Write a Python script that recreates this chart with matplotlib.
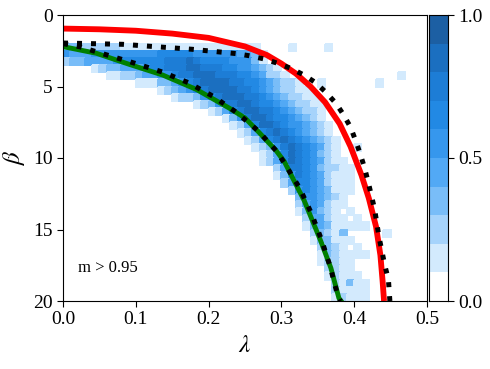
import numpy as np
import matplotlib
matplotlib.use("Agg")
import matplotlib.pyplot as plt
from matplotlib.colors import ListedColormap, BoundaryNorm

plt.rcParams["font.family"] = "serif"
plt.rcParams["font.serif"] = ["Liberation Serif", "DejaVu Serif"]
plt.rcParams["mathtext.fontset"] = "stix"

# histogram grid: lambda bins 0..0.5 (50), beta bins 0..20 (40)
n_lam, n_beta = 50, 40
# per row (beta bin): first column and the colour level of each cell (0 = empty)
row_start = [0, 0, 0, 0, 0, 0, 0, 0, 0, 0,
             13, 15, 18, 20, 22, 23, 24, 25, 26, 27,
             27, 29, 29, 30, 31, 32, 32, 32, 33, 33,
             34, 34, 35, 35, 35, 36, 36, 37, 37, 37]
row_levels = [
    "", "", "", "",
    "3322222211111111111111111110000100001",
    "5444555555555666665555554431",
    "2334444566666677787666655531",
    "000012334445667778877766554321",
    "00000011223445567788877766542210000000000000001",
    "00000000001113345678888776654322100100000001",
    "123456788887765432211",
    "12235678887765432211",
    "123577887665432211",
    "1246788776543221",
    "13578876654321",
    "12468876554321",
    "1246787654321",
    "1246787654321",
    "123578765421001",
    "12468765321",
    "124687654211",
    "24776532211",
    "13576542111",
    "2466542111",
    "256543111",
    "3554321",
    "2454211",
    "13532101",
    "24421101",
    "134311111",
    "23213000001",
    "133111",
    "232101",
    "1321111",
    "12211",
    "2211",
    "12111",
    "21311",
    "21111",
    "12111",
]

# curves (lambda, beta)
red_lam = [0.0, 0.05, 0.10, 0.15, 0.20, 0.25, 0.28, 0.30, 0.32, 0.34, 0.36,
           0.38, 0.395, 0.41, 0.42, 0.43, 0.436, 0.439, 0.441]
red_beta = [0.95, 1.0, 1.1, 1.3, 1.6, 2.2, 2.8, 3.4, 4.1, 5.0, 6.1,
            7.6, 9.2, 11.2, 12.8, 14.8, 16.8, 18.6, 20.0]

outer_lam = [0.0, 0.082, 0.178, 0.238, 0.256, 0.277, 0.295, 0.313, 0.331, 0.347,
             0.361, 0.375, 0.385, 0.395, 0.402, 0.408, 0.414, 0.419, 0.428, 0.434,
             0.442, 0.447, 0.449]
outer_beta = [1.96, 2.05, 2.4, 2.7, 2.85, 3.08, 3.38, 3.73, 4.2, 4.73,
              5.4, 6.18, 6.95, 7.85, 8.79, 9.67, 10.65, 11.63, 13.57, 15.5,
              17.5, 18.5, 20.0]

green_lam = [0.0, 0.046, 0.091, 0.137, 0.183, 0.228, 0.25, 0.27, 0.293, 0.304,
             0.3315, 0.354, 0.368, 0.379, 0.382]
green_beta = [2.21, 2.68, 3.45, 4.2, 5.2, 6.5, 7.2, 8.25, 9.5, 10.25,
              13.0, 15.8, 17.7, 19.8, 20.0]

inner_lam = [0.0, 0.023, 0.062, 0.099, 0.136, 0.172, 0.206, 0.238, 0.268, 0.294,
             0.304, 0.325, 0.341, 0.355, 0.367, 0.377, 0.381]
inner_beta = [2.0, 2.22, 2.82, 3.38, 3.98, 4.73, 5.68, 6.8, 8.1, 9.56,
              10.35, 12.1, 13.85, 15.7, 17.6, 19.56, 20.0]

cmap_colors = ["#ffffff", "#d3eafd", "#a6d3fb", "#79bdf8", "#52a9f5",
               "#3697ed", "#2289e4", "#1d7dd6", "#1b6fc0", "#1c5fa3"]

Z = np.full((n_beta, n_lam), np.nan)
for r in range(n_beta):
    for k, ch in enumerate(row_levels[r]):
        d = int(ch)
        if d > 0:
            Z[r, row_start[r] + k] = (d + 0.5) / 10.0

lam_edges = np.linspace(0, 0.5, n_lam + 1)
beta_edges = np.linspace(0, 20, n_beta + 1)

cmap = ListedColormap(cmap_colors)
norm = BoundaryNorm(np.linspace(0, 1, 11), cmap.N)

fig = plt.figure(figsize=(4.9, 3.69), dpi=100)
ax = fig.add_axes([63 / 490, 68 / 369, 364 / 490, 286 / 369])
cax = fig.add_axes([429 / 490, 68 / 369, 19 / 490, 286 / 369])

mesh = ax.pcolormesh(lam_edges, beta_edges, Z, cmap=cmap, norm=norm,
                     edgecolors="face", linewidth=0.2)

ax.plot(red_lam, red_beta, color="red", lw=4.2, solid_capstyle="butt")
ax.plot(green_lam, green_beta, color="green", lw=3.5)
ax.plot(outer_lam, outer_beta, color="black", lw=3.6, dashes=(1, 1.8))
ax.plot(inner_lam, inner_beta, color="black", lw=3.6, dashes=(1, 1.8))

ax.set_xlim(0, 0.5)
ax.set_ylim(20, 0)
ax.set_xticks([0.0, 0.1, 0.2, 0.3, 0.4, 0.5])
ax.set_yticks([0, 5, 10, 15, 20])
ax.tick_params(labelsize=14, direction="out", length=4)
ax.set_xlabel(r"$\lambda$", fontsize=18, labelpad=5)
ax.set_ylabel(r"$\beta$", fontsize=18, labelpad=4)
ax.text(0.02, 17.7, "m > 0.95", fontsize=12, va="center")

# colorbar drawn as a plain image of the 10 bands, no seams
cax.imshow(np.linspace(0.05, 0.95, 10).reshape(-1, 1), cmap=cmap, norm=norm,
           aspect="auto", origin="lower", extent=[0, 1, 0, 1],
           interpolation="nearest")
cax.set_xticks([])
cax.yaxis.tick_right()
cax.set_yticks([0.0, 0.5, 1.0])
cax.set_yticklabels(["0.0", "0.5", "1.0"])
cax.tick_params(labelsize=14, length=4)

fig.savefig("out.png", dpi=100)
